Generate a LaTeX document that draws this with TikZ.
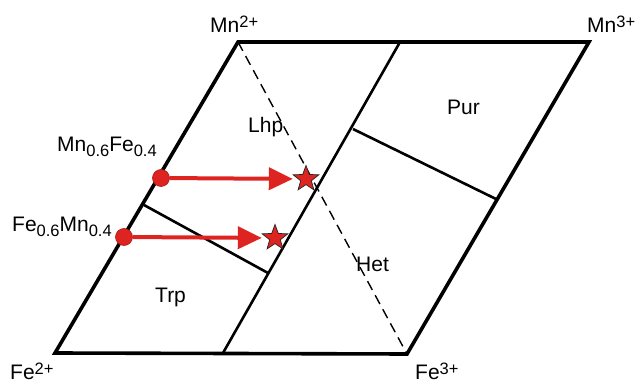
\documentclass[tikz,border=0pt]{standalone}
\usepackage{fontspec}
\setmainfont{Liberation Sans}
\usetikzlibrary{arrows.meta, positioning, shapes.geometric}
\definecolor{dotred}{RGB}{221,36,32}
\newcommand{\ionup}[1]{\raisebox{5pt}{\fontsize{16.5}{18}\selectfont #1}}
\newcommand{\ionsub}[1]{\raisebox{-5pt}{\fontsize{16.5}{18}\selectfont #1}}

\begin{document}
\begin{tikzpicture}[
  x=1pt, y=-1pt,
  every node/.style={font=\fontsize{21}{25}\selectfont, inner sep=0pt},
  frame/.style={line width=3.6pt, line join=miter},
  divider/.style={line width=2.6pt},
  tie/.style={line width=1.4pt, dash pattern=on 10pt off 6pt},
  site/.style={draw=dotred!75!black, fill=dotred, circle, minimum size=17pt, line width=0.6pt},
  target/.style={draw=black!85, fill=dotred, star, star points=5, star point ratio=2.4, minimum size=27pt, line width=0.7pt},
  move/.style={draw=dotred, line width=4pt, -{Triangle[length=24pt, width=22pt]}, shorten >=5pt},
  >=Stealth
]
  \useasboundingbox (0,0) rectangle (643,382);

  % corners of the square
  \coordinate (fe2) at (55,353);
  \coordinate (fe3) at (407,354);
  \coordinate (mn3) at (589,42);
  \coordinate (mn2) at (238,42);
  \coordinate (midtop) at (400,42);
  \coordinate (midbot) at (223,353);
  \coordinate (purL) at (353,129);
  \coordinate (purR) at (496,199);
  \coordinate (trpL) at (144,205);
  \coordinate (trpR) at (268,273);

  \draw[frame] (fe2) -- (fe3) -- (mn3) -- (mn2) -- cycle;
  \draw[divider] (midbot) -- (midtop);
  \draw[divider] (purL) -- (purR);
  \draw[divider] (trpL) -- (trpR);
  \draw[tie] (mn2) -- (fe3);

  % end members
  \node[anchor=base west] (mn2lab) at (210,33) {Mn\ionup{2+}};
  \node[anchor=base west] (mn3lab) at (587,33) {Mn\ionup{3+}};
  \node[anchor=base west] (fe2lab) at (10,379) {Fe\ionup{2+}};
  \node[anchor=base west] (fe3lab) at (415,379) {Fe\ionup{3+}};

  % fields
  \node[anchor=base west] (lhp) at (248,133) {Lhp};
  \node[anchor=base west] (pur) at (447,115) {Pur};
  \node[anchor=base west] (het) at (356,272) {Het};
  \node[anchor=base west] (trp) at (155,303) {Trp};

  % oxidation paths
  \node[anchor=base west] (uplab) at (57,152) {Mn\ionsub{0.6}Fe\ionsub{0.4}};
  \node[anchor=base west] (lowlab) at (12,232) {Fe\ionsub{0.6}Mn\ionsub{0.4}};
  \node[site] (upsite) at (161,178) {};
  \node[site] (lowsite) at (124,237) {};
  \node[target] (upstar) at (306,179) {};
  \node[target] (lowstar) at (275,238) {};
  \draw[move] (upsite) -- (upstar);
  \draw[move] (lowsite) -- (lowstar);
\end{tikzpicture}
\end{document}
